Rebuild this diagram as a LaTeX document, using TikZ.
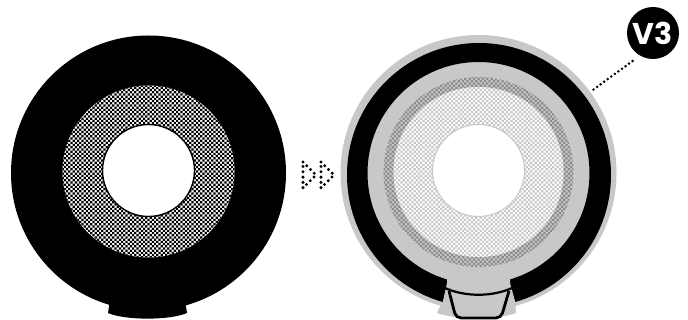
\documentclass[tikz,border=0pt]{standalone}
\usepackage{fontspec}
\setmainfont{Poppins}
\usetikzlibrary{patterns,positioning}
\definecolor{ringGray}{RGB}{200,200,200}
\definecolor{hatchGray}{RGB}{140,140,140}
\pgfdeclarepatternformonly{ringcheck}{\pgfqpoint{-1pt}{-1pt}}{\pgfqpoint{5.4pt}{5.4pt}}{\pgfqpoint{4.4pt}{4.4pt}}{
  \pgfpathrectangle{\pgfqpoint{0pt}{0pt}}{\pgfqpoint{2.2pt}{2.2pt}}
  \pgfpathrectangle{\pgfqpoint{2.2pt}{2.2pt}}{\pgfqpoint{2.2pt}{2.2pt}}
  \pgfusepath{fill}
}
\tikzset{
  version badge/.style={circle,fill=black,text=white,font=\fontsize{30}{30}\selectfont\bfseries,minimum size=52pt,inner sep=0pt},
  dot line/.style={line width=3.4pt,line cap=round,dash pattern=on 0pt off 5.3pt},
  check black/.style={pattern=ringcheck,pattern color=black},
  check gray/.style={pattern=ringcheck,pattern color=hatchGray}
}
\begin{document}
\begin{tikzpicture}[x=1pt,y=-1pt]
  \useasboundingbox (0,0) rectangle (688,320);
  % before
  \fill (110,300) -- (108,313) .. controls (125,320.5) and (170,320.5) .. (187,313) -- (185,300) -- cycle;
  \fill (148.5,173) circle[radius=137.5];
  \fill[white] (148.5,171.5) circle[radius=86];
  \fill[check black] (148.5,171.5) circle[radius=86];
  \draw[fill=white,line width=1.4pt] (148.5,170.5) circle[radius=46];
  % step arrow
  \draw[dot line] (303,162) -- (316,175) -- (303,188) -- cycle;
  \draw[dot line] (321,162) -- (334,175) -- (321,188) -- cycle;
  % after
  \fill[ringGray] (478.5,173) circle[radius=138];
  \fill[ringGray] (443,300) -- (437,313) .. controls (460,320.5) and (495,320.5) .. (516,313) -- (515,300) -- cycle;
  \fill[even odd rule] (479,175) circle[radius=132] (478.5,173) circle[radius=111];
  \fill[ringGray] (447,276) -- (447,283) -- (443,301) -- (443,312) -- (515,312) -- (515,301) -- (510,283) -- (510,276) -- cycle;
  \fill[ringGray] (478.5,172) circle[radius=95];
  \fill[check gray] (478.5,172) circle[radius=95];
  \fill[white] (478.5,172) circle[radius=85];
  \fill[pattern=ringcheck,pattern color=ringGray] (478.5,172) circle[radius=85];
  \draw[fill=white,draw=ringGray,line width=1pt] (478.5,170.5) circle[radius=46];
  \draw[line width=2.8pt,rounded corners=5pt] (449,291) -- (456,318) -- (501,318) -- (509,291);
  \draw[line width=2.2pt] (445,288) .. controls (465,297) and (492,297) .. (512,288);
  % label
  \node[version badge] (badge) at (653,33) {V3};
  \coordinate (ringEdge) at (590,92);
  \draw[dot line,line width=2.8pt,dash pattern=on 0pt off 4.4pt,shorten <=9pt] (badge.240) -- (ringEdge);
\end{tikzpicture}
\end{document}
